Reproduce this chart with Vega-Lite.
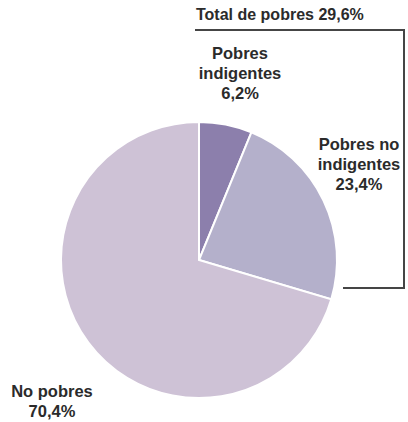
{
  "$schema": "https://vega.github.io/schema/vega-lite/v6.json",
  "width": 408,
  "height": 422,
  "autosize": {"type": "fit", "contains": "padding"},
  "padding": 0,
  "background": "white",
  "config": {"view": {"stroke": null}},
  "datasets": {
    "slices": [
      {"cat": "Pobres indigentes", "pct": 6.2, "ord": 1, "cx": 199, "cy": 260},
      {"cat": "Pobres no indigentes", "pct": 23.4, "ord": 2, "cx": 199, "cy": 260},
      {"cat": "No pobres", "pct": 70.4, "ord": 3, "cx": 199, "cy": 260}
    ],
    "labels": [
      {"lines": ["Pobres", "indigentes", "6,2%"], "lx": 240, "ly": 59},
      {"lines": ["Pobres no", "indigentes", "23,4%"], "lx": 359, "ly": 150},
      {"lines": ["No pobres", "70,4%"], "lx": 52, "ly": 397}
    ],
    "title": [
      {"t": "Total de pobres 29,6%", "tx": 196, "ty": 20}
    ],
    "rules": [
      {"seg": "top", "ax": 195, "ay": 30, "bx": 405, "by": 30},
      {"seg": "side", "ax": 404, "ay": 30, "bx": 404, "by": 288},
      {"seg": "bottom", "ax": 343, "ay": 288, "bx": 405, "by": 288}
    ]
  },
  "layer": [
    {
      "data": {"name": "slices"},
      "mark": {"type": "arc", "radius": 138, "stroke": "white", "strokeWidth": 2},
      "encoding": {
        "theta": {"field": "pct", "type": "quantitative", "stack": true},
        "order": {"field": "ord", "type": "quantitative"},
        "color": {
          "field": "cat", "type": "nominal", "legend": null,
          "scale": {"domain": ["Pobres indigentes", "Pobres no indigentes", "No pobres"],
                    "range": ["#8c7fac", "#b4b0cb", "#cec2d6"]}
        },
        "x": {"field": "cx", "type": "quantitative", "scale": {"domain": [0, 408], "nice": false, "zero": false}, "axis": null},
        "y": {"field": "cy", "type": "quantitative", "scale": {"domain": [0, 422], "reverse": true, "nice": false, "zero": false}, "axis": null}
      }
    },
    {
      "data": {"name": "rules"},
      "mark": {"type": "rule", "color": "#454545", "strokeWidth": 2},
      "encoding": {
        "x": {"field": "ax", "type": "quantitative", "axis": null},
        "y": {"field": "ay", "type": "quantitative", "axis": null},
        "x2": {"field": "bx"},
        "y2": {"field": "by"},
        "detail": {"field": "seg", "type": "nominal"}
      }
    },
    {
      "data": {"name": "labels"},
      "mark": {"type": "text", "align": "center", "baseline": "alphabetic", "font": "Liberation Sans", "fontWeight": "bold", "fontSize": 16.5, "lineHeight": 20, "color": "#2b2b2b"},
      "encoding": {
        "x": {"field": "lx", "type": "quantitative", "axis": null},
        "y": {"field": "ly", "type": "quantitative", "axis": null},
        "text": {"field": "lines", "type": "nominal"}
      }
    },
    {
      "data": {"name": "title"},
      "mark": {"type": "text", "align": "left", "baseline": "alphabetic", "font": "Liberation Sans", "fontWeight": "bold", "fontSize": 16, "color": "#2b2b2b"},
      "encoding": {
        "x": {"field": "tx", "type": "quantitative", "axis": null},
        "y": {"field": "ty", "type": "quantitative", "axis": null},
        "text": {"field": "t", "type": "nominal"}
      }
    }
  ]
}
